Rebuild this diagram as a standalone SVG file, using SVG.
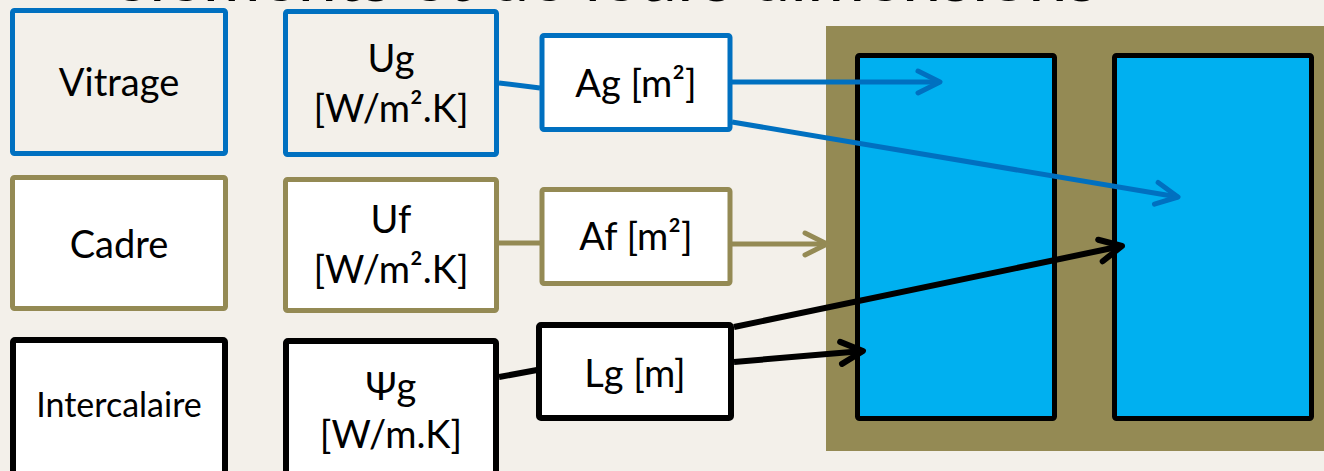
<svg xmlns="http://www.w3.org/2000/svg" width="1324" height="471" viewBox="0 0 1324 471">
<style>
  .t{font-family:Lato,"Open Sans","Liberation Sans",sans-serif;font-size:38px;fill:#000;text-anchor:middle}
  .ts{font-size:34px}
  .title{font-family:Lato,"Open Sans","Liberation Sans",sans-serif;font-size:62px;fill:#000}
  .bb{fill:none;stroke:#0070C0;stroke-width:5}
  .bw{fill:#fff;stroke:#0070C0;stroke-width:5}
  .ob{fill:#fff;stroke:#948A54;stroke-width:5}
  .kb{fill:#fff;stroke:#000;stroke-width:6}
  .pane{fill:#00B0F0;stroke:#000;stroke-width:5}
  .cb{fill:none;stroke:#0070C0;stroke-width:5}
  .co{fill:none;stroke:#948A54;stroke-width:5}
  .ck{fill:none;stroke:#000;stroke-width:6}
</style>
<defs>
  <marker id="ab" markerUnits="userSpaceOnUse" markerWidth="40" markerHeight="40" viewBox="-30 -20 40 40" refX="0" refY="0" orient="auto">
    <path d="M-22,-11 L0,0 L-22,11" fill="none" stroke="#0070C0" stroke-width="5" stroke-linecap="round" stroke-linejoin="round"/>
  </marker>
  <marker id="ao" markerUnits="userSpaceOnUse" markerWidth="40" markerHeight="40" viewBox="-30 -20 40 40" refX="0" refY="0" orient="auto">
    <path d="M-22,-11 L0,0 L-22,11" fill="none" stroke="#948A54" stroke-width="5" stroke-linecap="round" stroke-linejoin="round"/>
  </marker>
  <marker id="ak" markerUnits="userSpaceOnUse" markerWidth="40" markerHeight="40" viewBox="-30 -20 40 40" refX="0" refY="0" orient="auto">
    <path d="M-22,-11 L0,0 L-22,11" fill="none" stroke="#000" stroke-width="6" stroke-linecap="round" stroke-linejoin="round"/>
  </marker>
</defs>
<rect x="0" y="0" width="1324" height="471" fill="#F3F0EA"/>
<text class="title" x="112" y="1" textLength="986" lengthAdjust="spacingAndGlyphs">éléments et de leurs dimensions</text>

<g id="window">
  <rect x="826" y="26" width="500" height="425" fill="#948A54"/>
  <rect class="pane" x="857.5" y="55.5" width="197" height="363" rx="2"/>
  <rect class="pane" x="1114.5" y="55.5" width="197" height="363" rx="2"/>
</g>

<g id="vitrage">
  <rect class="bb" x="12.5" y="10.5" width="213" height="143" rx="2"/>
  <text class="t" x="119" y="96">Vitrage</text>
</g>
<g id="ug">
  <rect class="bb" x="285.5" y="11.5" width="211" height="143" rx="2"/>
  <text class="t" x="391" y="72">Ug</text>
  <text class="t" x="391" y="122">[W/m².K]</text>
</g>
<g id="ag">
  <rect class="bw" x="542" y="35.5" width="188" height="94" rx="2"/>
  <text class="t" x="636" y="97">Ag [m²]</text>
</g>

<g id="cadre">
  <rect class="ob" x="12.5" y="177.5" width="213" height="131" rx="2"/>
  <text class="t" x="119" y="258">Cadre</text>
</g>
<g id="uf">
  <rect class="ob" x="285.5" y="179.5" width="211" height="131" rx="2"/>
  <text class="t" x="391" y="233">Uf</text>
  <text class="t" x="391" y="283">[W/m².K]</text>
</g>
<g id="af">
  <rect class="ob" x="542" y="189.5" width="188" height="94" rx="2"/>
  <text class="t" x="636" y="250">Af [m²]</text>
</g>

<g id="intercalaire">
  <rect class="kb" x="13" y="340" width="212" height="140" rx="2"/>
  <text class="t ts" x="119" y="417">Intercalaire</text>
</g>
<g id="psig">
  <rect class="kb" x="286" y="341" width="210" height="140" rx="2"/>
  <text class="t" x="391" y="400">Ψg</text>
  <text class="t" x="391" y="448">[W/m.K]</text>
</g>
<g id="lg">
  <rect class="kb" x="539" y="325" width="192" height="93" rx="2"/>
  <text class="t" x="635" y="387">Lg [m]</text>
</g>

<g id="connectors">
  <line class="cb" x1="499" y1="83" x2="540" y2="88"/>
  <line class="cb" x1="732" y1="82" x2="940" y2="82" marker-end="url(#ab)"/>
  <line class="cb" x1="732" y1="122" x2="1178" y2="197" marker-end="url(#ab)"/>
  <line class="co" x1="499" y1="243" x2="540" y2="243"/>
  <line class="co" x1="732" y1="244" x2="827" y2="244" marker-end="url(#ao)"/>
  <line class="ck" x1="499" y1="377" x2="537" y2="370"/>
  <line class="ck" x1="734" y1="327" x2="1122" y2="246" marker-end="url(#ak)"/>
  <line class="ck" x1="734" y1="362" x2="863" y2="351" marker-end="url(#ak)"/>
</g>
</svg>
